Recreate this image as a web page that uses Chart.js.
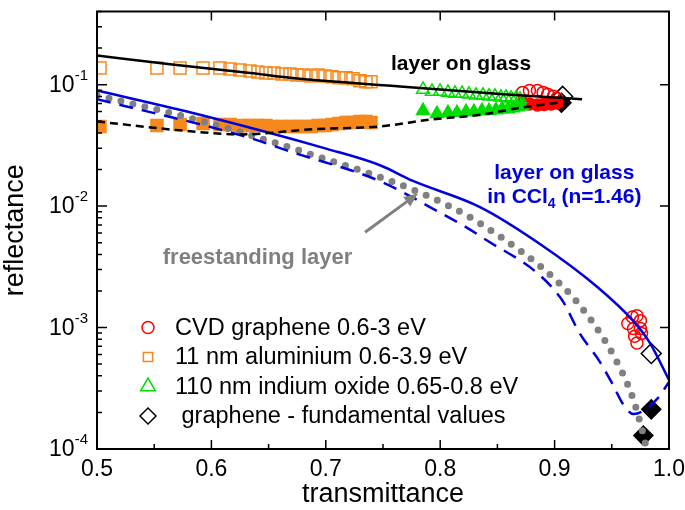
<!DOCTYPE html>
<html>
<head>
<meta charset="utf-8">
<script src="https://cdn.jsdelivr.net/npm/chart.js@4.4.1/dist/chart.umd.min.js"></script>
<style>
  body { margin: 0; background: #fff; }
  canvas { display: block; }
</style>
</head>
<body>
<canvas id="myChart" width="685" height="510"></canvas>
<script>
// axis ticks
const xTicks = [0.5, 0.6, 0.7, 0.8, 0.9, 1.0];
const xMinor = [0.55, 0.65, 0.75, 0.85, 0.95];
const yTicks = [1e-4, 1e-3, 1e-2, 1e-1];
const yExp = ['-4', '-3', '-2', '-1'];

// layer on glass (theory, solid black)
const glassT = [0.5, 0.5638, 0.634, 0.669, 0.765, 0.852, 0.924];
const glassR = [0.174, 0.147, 0.1247, 0.1138, 0.0964, 0.0838, 0.0759];
// layer on glass, dashed black
const glass2T = [0.5, 0.5813, 0.625, 0.6888, 0.7474, 0.7911, 0.8348, 0.8698, 0.9065];
const glass2R = [0.0497, 0.0413, 0.0389, 0.0429, 0.0453, 0.0515, 0.0565, 0.0643, 0.0718];
// layer on glass in CCl4 (solid blue)
const cclT = [0.5, 0.590, 0.701, 0.7474, 0.7762, 0.8348, 0.8872, 0.9371, 0.9685, 0.9834, 1.0];
const cclR = [0.0895, 0.0565, 0.0296, 0.0217, 0.0161, 0.00982, 0.00488, 0.00217, 0.00114, 0.000745, 0.00037];
// dashed blue
const ccl2T = [0.5, 0.631, 0.669, 0.747, 0.791, 0.835, 0.905, 0.922, 0.940, 0.951, 0.960, 0.969, 0.977, 0.990, 1.0];
const ccl2R = [0.0759, 0.037, 0.0281, 0.0161, 0.00982, 0.00565, 0.00177, 0.000895, 0.000515, 0.000337, 0.000233, 0.000194, 0.000205, 0.000261, 0.000356];
// freestanding layer (gray dots)
const freeT = [0.5, 0.590, 0.677, 0.784, 0.835, 0.909, 0.934, 0.953, 0.967, 0.976, 0.981];
const freeR = [0.0817, 0.0505, 0.0286, 0.0127, 0.00718, 0.00209, 0.00108, 0.000555, 0.000286, 0.00015, 0.0000946];

// CVD graphene
const cvdT = [0.872, 0.878, 0.885, 0.890, 0.894, 0.899, 0.902];
const cvdR = [0.0863, 0.0895, 0.0895, 0.0863, 0.0832, 0.0802, 0.0773];
const cvdFillT = [0.872, 0.878, 0.885, 0.891, 0.897, 0.902];
const cvdFillR = [0.0705, 0.0692, 0.068, 0.0685, 0.0692, 0.0705];
const cvdLowT = [0.964, 0.968, 0.972, 0.975, 0.969, 0.975, 0.970, 0.976, 0.972];
const cvdLowR = [0.00108, 0.00122, 0.00125, 0.00114, 0.00098, 0.00098, 0.000847, 0.000895, 0.000745];

// 11 nm aluminium
const alT = [0.5026, 0.5524, 0.5726, 0.5927, 0.6075, 0.6163, 0.625, 0.6337, 0.6407, 0.6477, 0.6547, 0.6617, 0.6687,
    0.6748, 0.6809, 0.6871, 0.6932, 0.6993, 0.7054, 0.7115, 0.7177, 0.7238, 0.7299, 0.7351, 0.7395];
const alR = [0.137, 0.137, 0.137, 0.137, 0.137, 0.1343, 0.1318, 0.1294, 0.1271, 0.1247, 0.1247, 0.1225, 0.1225,
    0.1202, 0.1202, 0.118, 0.1202, 0.118, 0.1159, 0.1138, 0.1138, 0.1117, 0.1076, 0.1057, 0.1057];
const alFillR = [0.0453, 0.0461, 0.047, 0.0479, 0.047, 0.047, 0.0461, 0.0461, 0.0461, 0.0461, 0.0453, 0.0453, 0.0453,
    0.0453, 0.0453, 0.0453, 0.0461, 0.0461, 0.047, 0.0479, 0.0488, 0.0488, 0.0497, 0.0497, 0.0488];

// 110 nm indium oxide
const inoT = [0.785, 0.7928, 0.7998, 0.8068, 0.8129, 0.8191, 0.8252, 0.8313, 0.8374, 0.8427, 0.8479, 0.8531, 0.8575, 0.8619, 0.8663, 0.8698];
const inoR = [0.0912, 0.0879, 0.0879, 0.0863, 0.0847, 0.0847, 0.0832, 0.0817, 0.0817, 0.0802, 0.0802, 0.0787, 0.0787, 0.0773, 0.0773, 0.0759];
const inoFillT = [0.785, 0.7972, 0.8068, 0.8147, 0.8226, 0.8295, 0.8365, 0.8427, 0.8488, 0.854, 0.8593, 0.8636, 0.868, 0.8715];
const inoFillR = [0.0608, 0.0575, 0.0586, 0.0586, 0.0597, 0.0597, 0.0608, 0.0608, 0.0619, 0.0631, 0.0631, 0.0643, 0.0655, 0.0667];

// graphene fundamental values
const fundT = [0.907, 0.9845];
const fundR = [0.080, 0.000611];
const fundFillT = [0.906, 0.9845, 0.9776];
const fundFillR = [0.071, 0.000212, 0.000129];

// annotations [T, R]
const arrowFrom = [0.7343, 0.00608];
const arrowTo = [0.7806, 0.0127];
const glassLabelAt = [0.8182, 0.147];
const cclLabelAt = [0.9085, 0.0187, 0.0118];
const freeLabelAt = [0.6403, 0.00377];

const RED = "#ff0000", ORANGE = "#f7881c", GREEN = "#00dd00", BLUE = "#0000dd", GRAY = "#808080";
const FONT = "'Liberation Sans', Arial, sans-serif";

function pts(xs, ys) {
    return xs.map((x, i) => ({ x: x, y: ys[i] }));
}

function lineSet(xs, ys, color, width, dash) {
    return {
        data: pts(xs, ys), showLine: true, borderColor: color, borderWidth: width,
        borderDash: dash || [], pointRadius: 0, fill: false, cubicInterpolationMode: "monotone"
    };
}

function pointSet(xs, ys, style, color, r, filled) {
    return {
        data: pts(xs, ys), showLine: false, pointStyle: style, pointRadius: r,
        pointBorderColor: color, pointBackgroundColor: filled ? color : "rgba(0,0,0,0)",
        pointBorderWidth: 1.5
    };
}

let dotted = lineSet(freeT, freeR, GRAY, 7, [0, 12.3]);
dotted.borderCapStyle = "round";

const datasets = [
    lineSet(glassT, glassR, "#000", 2.5),
    lineSet(glass2T, glass2R, "#000", 2.5, [8, 5]),
    lineSet(cclT, cclR, BLUE, 2.5),
    lineSet(ccl2T, ccl2R, BLUE, 2.5, [14, 9]),
    dotted,
    pointSet(alT, alR, "rect", ORANGE, 8.5, false),
    pointSet(alT, alFillR, "rect", ORANGE, 8.5, true),
    pointSet(inoT, inoR, "triangle", GREEN, 7.5, false),
    pointSet(inoFillT, inoFillR, "triangle", GREEN, 7.5, true),
    pointSet(cvdT, cvdR, "circle", RED, 6, false),
    pointSet(cvdFillT, cvdFillR, "circle", RED, 6, true),
    pointSet(cvdLowT, cvdLowR, "circle", RED, 6, false),
    pointSet(fundT, fundR, "rectRot", "#000", 10, false),
    pointSet(fundFillT, fundFillR, "rectRot", "#000", 9.5, true)
];

// legend entries
const legendItems = [
    { text: "CVD graphene 0.6-3 eV", style: "circle", color: RED, r: 6 },
    { text: "11 nm aluminium 0.6-3.9 eV", style: "rect", color: ORANGE, r: 6.5 },
    { text: "110 nm indium oxide 0.65-0.8 eV", style: "triangle", color: GREEN, r: 8.5 },
    { text: " graphene - fundamental values", style: "rectRot", color: "#000", r: 8 }
];

const extras = {
    id: "extras",
    afterDatasetsDraw(chart) {
        const ctx = chart.ctx, xs = chart.scales.x, ys = chart.scales.y;
        const px = v => xs.getPixelForValue(v), py = v => ys.getPixelForValue(v);
        ctx.save();
        // arrow
        let x1 = px(arrowFrom[0]), y1 = py(arrowFrom[1]), x2 = px(arrowTo[0]), y2 = py(arrowTo[1]);
        let a = Math.atan2(y2 - y1, x2 - x1);
        ctx.strokeStyle = GRAY; ctx.fillStyle = GRAY; ctx.lineWidth = 3;
        ctx.beginPath();
        ctx.moveTo(x1, y1);
        ctx.lineTo(x2 - 10 * Math.cos(a), y2 - 10 * Math.sin(a));
        ctx.stroke();
        ctx.beginPath();
        ctx.moveTo(x2, y2);
        ctx.lineTo(x2 - 14 * Math.cos(a) + 6 * Math.sin(a), y2 - 14 * Math.sin(a) - 6 * Math.cos(a));
        ctx.lineTo(x2 - 14 * Math.cos(a) - 6 * Math.sin(a), y2 - 14 * Math.sin(a) + 6 * Math.cos(a));
        ctx.closePath();
        ctx.fill();

        // text labels
        ctx.textAlign = "center"; ctx.textBaseline = "middle";
        ctx.font = "bold 21px " + FONT;
        ctx.fillStyle = "#000";
        ctx.fillText("layer on glass", px(glassLabelAt[0]), py(glassLabelAt[1]));
        ctx.fillStyle = BLUE;
        ctx.fillText("layer on glass", px(cclLabelAt[0]), py(cclLabelAt[1]));
        // "in CCl4 (n=1.46)" with subscript
        let p1 = "in CCl", p2 = "4", p3 = " (n=1.46)";
        ctx.font = "bold 21px " + FONT;
        let w1 = ctx.measureText(p1).width, w3 = ctx.measureText(p3).width;
        ctx.font = "bold 14px " + FONT;
        let w2 = ctx.measureText(p2).width;
        let sx = px(cclLabelAt[0]) - (w1 + w2 + w3) / 2, sy = py(cclLabelAt[2]);
        ctx.textAlign = "left";
        ctx.font = "bold 21px " + FONT;
        ctx.fillText(p1, sx, sy);
        ctx.fillText(p3, sx + w1 + w2, sy);
        ctx.font = "bold 14px " + FONT;
        ctx.fillText(p2, sx + w1, sy + 7);
        ctx.textAlign = "center";
        ctx.font = "bold 22px " + FONT;
        ctx.fillStyle = GRAY;
        ctx.fillText("freestanding layer", px(freeLabelAt[0]), py(freeLabelAt[1]));
        ctx.restore();
    },
    afterDraw(chart) {
        const ctx = chart.ctx, xs = chart.scales.x, ys = chart.scales.y;
        const area = chart.chartArea;
        ctx.save();
        ctx.strokeStyle = "#000"; ctx.lineWidth = 2;
        ctx.strokeRect(area.left, area.top, area.right - area.left, area.bottom - area.top);
        ctx.lineWidth = 1.5;
        ctx.beginPath();
        // x ticks
        xTicks.forEach(v => {
            let x = xs.getPixelForValue(v);
            ctx.moveTo(x, area.bottom); ctx.lineTo(x, area.bottom - 9);
            if (v > 0.5 && v < 1.0) { ctx.moveTo(x, area.top); ctx.lineTo(x, area.top + 9); }
        });
        xMinor.forEach(v => {
            let x = xs.getPixelForValue(v);
            ctx.moveTo(x, area.bottom); ctx.lineTo(x, area.bottom - 5);
        });
        // y ticks, majors and minors
        for (let e = -4; e <= -1; e++) {
            for (let m = 1; m <= 9; m++) {
                let v = m * Math.pow(10, e);
                if (v > ys.max * 1.0001) break;
                let y = ys.getPixelForValue(v);
                let len = m === 1 ? 10 : 5;
                ctx.moveTo(area.left, y); ctx.lineTo(area.left + len, y);
                if (m === 1 && e > -4) { ctx.moveTo(area.right, y); ctx.lineTo(area.right - 9, y); }
            }
        }
        ctx.stroke();

        // tick labels
        ctx.fillStyle = "#000";
        ctx.font = "23px " + FONT;
        ctx.textAlign = "center"; ctx.textBaseline = "middle";
        xTicks.forEach(v => ctx.fillText(v.toFixed(1), xs.getPixelForValue(v), area.bottom + 21));
        yTicks.forEach((v, i) => {
            let y = ys.getPixelForValue(v);
            ctx.textAlign = "right";
            ctx.font = "15px " + FONT;
            let sw = ctx.measureText(yExp[i]).width;
            ctx.fillText(yExp[i], area.left - 9, y - 9);
            ctx.font = "23px " + FONT;
            ctx.fillText("10", area.left - 9 - sw, y + 1);
        });

        // legend
        const lx = area.left + 51, ly = area.top + 316, step = 29.5;
        legendItems.forEach((it, i) => {
            let y = ly + i * step;
            ctx.strokeStyle = it.color; ctx.fillStyle = "#fff"; ctx.lineWidth = 1.5;
            Chart.helpers.drawPoint(ctx, { pointStyle: it.style, radius: it.r, rotation: 0, borderWidth: 1.5 }, lx, y);
            ctx.fillStyle = "#000";
            ctx.textAlign = "left";
            ctx.font = "23.5px " + FONT;
            ctx.fillText(it.text, lx + 27, y + 1);
        });
        ctx.restore();
    }
};

const chart = new Chart("myChart", {
    type: "scatter",
    data: { datasets: datasets },
    options: {
        responsive: false,
        animation: false,
        layout: { padding: { top: 1, right: 16, left: 0, bottom: 0 } },
        plugins: { legend: { display: false }, tooltip: { enabled: false } },
        scales: {
            x: {
                type: "linear", min: 0.5, max: 1.0,
                grid: { display: false }, border: { display: false },
                ticks: { display: false },
                title: { display: true, text: "transmittance", color: "#000",
                    font: { family: FONT, size: 27, lineHeight: 1 }, padding: { top: 0, bottom: 2 } },
                afterFit: s => { s.height = 61; }
            },
            y: {
                type: "logarithmic", min: 1e-4, max: 0.4,
                grid: { display: false }, border: { display: false },
                ticks: { display: false },
                title: { display: true, text: "reflectance", color: "#000",
                    font: { family: FONT, size: 27, lineHeight: 1 }, padding: { top: 2, bottom: 0 } },
                afterFit: s => { s.width = 97; }
            }
        }
    },
    plugins: [extras]
});
</script>
</body>
</html>
